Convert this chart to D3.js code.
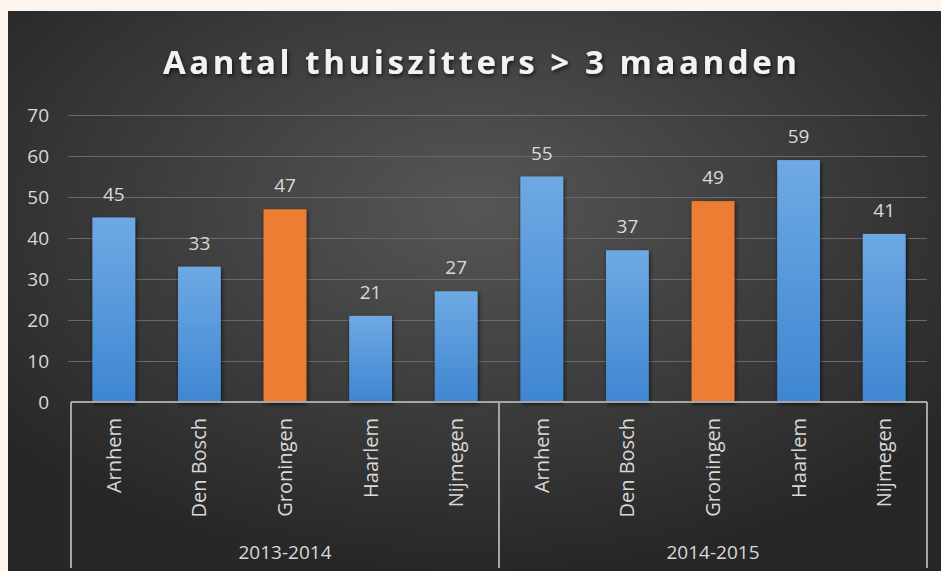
<!DOCTYPE html>
<html>
<head>
<meta charset="utf-8">
<script src="https://cdn.jsdelivr.net/npm/d3@7"></script>
<style>
  body { margin: 0; background: #fdf4ee; }
  svg { display: block; }
  text { font-family: "Open Sans", "DejaVu Sans", sans-serif; }
</style>
</head>
<body>
<svg id="chart" width="941" height="571"></svg>
<script>
// data
const periods = ["2013-2014", "2014-2015"];
const cities = ["Arnhem", "Den Bosch", "Groningen", "Haarlem", "Nijmegen"];
const values2013 = [45, 33, 47, 21, 27];
const values2014 = [55, 37, 49, 59, 41];
const highlight = "Groningen";
const yTicks = [0, 10, 20, 30, 40, 50, 60, 70];
const title = "Aantal thuiszitters > 3 maanden";

const rows = [];
periods.forEach((p, i) => {
    const vals = i === 0 ? values2013 : values2014;
    cities.forEach((c, j) => rows.push({ key: p + "|" + c, period: p, city: c, value: vals[j] }));
});

const svg = d3.select("#chart");
const W = 941, H = 571;
const margin = { top: 115, right: 14, bottom: 169, left: 71 };
const panel = { x: 8, y: 11 };

const defs = svg.append("defs");
const bg = defs.append("radialGradient").attr("id", "bg")
    .attr("cx", "50%").attr("cy", "35%").attr("r", "65%");
bg.append("stop").attr("offset", "0%").attr("stop-color", "#565656");
bg.append("stop").attr("offset", "100%").attr("stop-color", "#272727");

const blue = defs.append("linearGradient").attr("id", "blue")
    .attr("x1", 0).attr("y1", 0).attr("x2", 0).attr("y2", 1);
blue.append("stop").attr("offset", "0%").attr("stop-color", "#6ea9e4");
blue.append("stop").attr("offset", "100%").attr("stop-color", "#3f86d1");

const shadow = defs.append("filter").attr("id", "shadow")
    .attr("x", "-20%").attr("y", "-20%").attr("width", "140%").attr("height", "140%");
shadow.append("feDropShadow").attr("dx", 1).attr("dy", 2).attr("stdDeviation", 2)
    .attr("flood-color", "#000").attr("flood-opacity", 0.7);

// dark panel
svg.append("rect")
    .attr("x", panel.x).attr("y", panel.y)
    .attr("width", W - panel.x).attr("height", H - panel.y)
    .attr("fill", "url(#bg)");

const x = d3.scaleBand()
    .domain(rows.map(d => d.key))
    .range([margin.left, W - margin.right])
    .paddingInner(0.5).paddingOuter(0.25);

const y = d3.scaleLinear()
    .domain([0, 70])
    .range([H - margin.bottom, margin.top]);

// title
svg.append("text")
    .attr("x", 480).attr("y", 74)
    .attr("text-anchor", "middle")
    .attr("textLength", 634).attr("lengthAdjust", "spacing")
    .attr("fill", "#f2f2f2")
    .attr("font-size", 33).attr("font-weight", "bold")
    .attr("filter", "url(#shadow)")
    .text(title);

// gridlines + y labels
const yAxis = svg.append("g")
    .attr("transform", `translate(${margin.left},0)`)
    .call(d3.axisLeft(y).tickValues(yTicks).tickSize(-(W - margin.right - margin.left)).tickPadding(22));
yAxis.select(".domain").remove();
yAxis.selectAll(".tick line").attr("stroke", "#6a6a6a").attr("stroke-width", 1)
    .attr("x1", -3);
yAxis.selectAll(".tick").filter(d => d === 0).select("line").remove();
yAxis.selectAll(".tick text")
    .attr("fill", "#d9d9d9").attr("font-size", 19).attr("dy", "0.34em");

// bars
svg.append("g").selectAll("rect")
    .data(rows)
    .join("rect")
    .attr("x", d => x(d.key))
    .attr("y", d => y(d.value))
    .attr("width", x.bandwidth())
    .attr("height", d => y(0) - y(d.value))
    .attr("fill", d => d.city === highlight ? "#ed7d31" : "url(#blue)")
    .attr("filter", "url(#shadow)");

// value labels
svg.append("g").selectAll("text")
    .data(rows)
    .join("text")
    .attr("x", d => x(d.key) + x.bandwidth() / 2)
    .attr("y", d => y(d.value) - 17)
    .attr("text-anchor", "middle")
    .attr("fill", "#d9d9d9").attr("font-size", 19)
    .text(d => d.value);

// category axis bracket
const y0 = y(0);
const axisColor = "#a6a6a6";
const bracket = svg.append("g").attr("stroke", axisColor).attr("stroke-width", 2);
bracket.append("line")
    .attr("x1", margin.left).attr("x2", W - margin.right)
    .attr("y1", y0).attr("y2", y0);
const groupEdges = [margin.left, (margin.left + W - margin.right) / 2, W - margin.right];
bracket.selectAll("line.v")
    .data(groupEdges)
    .join("line")
    .attr("class", "v")
    .attr("x1", d => d).attr("x2", d => d)
    .attr("y1", y0).attr("y2", 568);

// city labels (rotated)
svg.append("g").selectAll("text")
    .data(rows)
    .join("text")
    .attr("transform", d => `translate(${x(d.key) + x.bandwidth() / 2 + 7},${y0 + 16}) rotate(-90)`)
    .attr("text-anchor", "end")
    .attr("fill", "#d9d9d9").attr("font-size", 20)
    .text(d => d.city);

// period labels
svg.append("g").selectAll("text")
    .data(periods)
    .join("text")
    .attr("x", (d, i) => (groupEdges[i] + groupEdges[i + 1]) / 2)
    .attr("y", 559)
    .attr("text-anchor", "middle")
    .attr("fill", "#d9d9d9").attr("font-size", 19)
    .text(d => d);
</script>
</body>
</html>
